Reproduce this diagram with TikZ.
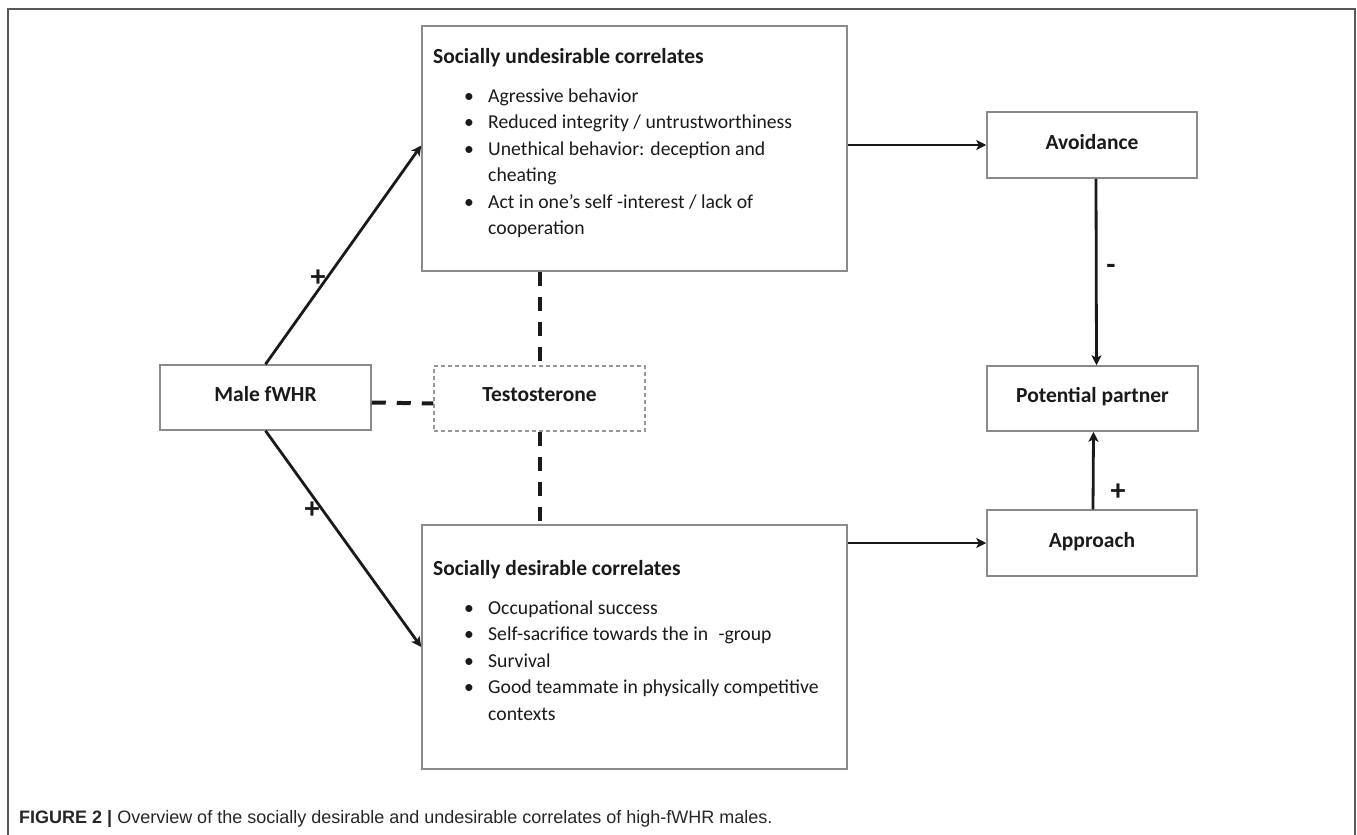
\documentclass[tikz,border=0pt]{standalone}
\usepackage{fontspec}
\setmainfont{Carlito}
\newfontfamily\capfont{Liberation Sans}
\usetikzlibrary{arrows.meta}
\definecolor{boxgray}{HTML}{8A8A8A}
\definecolor{ink}{HTML}{1A1A1A}
\tikzset{
  box/.style={draw=boxgray, line width=1.5pt, fill=white, inner sep=0pt, font=\fontsize{21.5pt}{26pt}\selectfont\bfseries, text=ink},
  dbox/.style={box, draw=boxgray!90, dash pattern=on 4pt off 3pt},
  arr/.style={draw=ink, line width=2.8pt, -{Stealth[length=10pt,width=10pt,inset=2.5pt]}},
  dashline/.style={draw=ink, line width=4pt, dash pattern=on 14pt off 11pt},
  ttl/.style={anchor=base west, inner sep=0pt, font=\fontsize{21.5pt}{26pt}\selectfont\bfseries, text=ink},
  itm/.style={anchor=base west, inner sep=0pt, font=\fontsize{19.7pt}{26pt}\selectfont, text=ink},
  sign/.style={inner sep=0pt, font=\fontsize{30pt}{34pt}\selectfont\bfseries, text=ink},
}
\newcommand{\bul}{\makebox[25pt][l]{\hspace*{1pt}•}}
\begin{document}
\begin{tikzpicture}[x=1pt,y=-1pt]
\useasboundingbox (0,0) rectangle (1357,835);
% frame
\draw[draw=black!65, line width=2pt] (8,835) -- (8,9) -- (1355,9) -- (1355,835);

% boxes
\node[box, minimum width=211pt, minimum height=65pt] (male) at (265.5,397.5) {\raisebox{7pt}{Male fWHR}};
\node[dbox, minimum width=211pt, minimum height=65pt] (testo) at (539.5,398.5) {\raisebox{7pt}{Testosterone}};
\node[box, minimum width=425pt, minimum height=245pt] (undes) at (634.5,148.5) {};
\node[box, minimum width=425pt, minimum height=244pt] (des) at (634.5,647) {};
\node[box, minimum width=210pt, minimum height=66pt] (avoid) at (1092,145) {\raisebox{7pt}{Avoidance}};
\node[box, minimum width=211pt, minimum height=65pt] (partner) at (1092.5,398.5) {\raisebox{7pt}{Potential partner}};
\node[box, minimum width=210pt, minimum height=66pt] (appr) at (1092,543) {\raisebox{7pt}{Approach}};

% undesirable text
\node[ttl] (ut) at (433,63) {Socially undesirable correlates};
\node[itm] (u1) at (463,102) {\bul Agressive behavior};
\node[itm] (u2) at (463,128.5) {\bul Reduced integrity / untrustworthiness};
\node[itm] (u3) at (463,155) {\bul Unethical behavior: deception and};
\node[itm] (u3b) at (488,181.5) {cheating};
\node[itm] (u4) at (463,208) {\bul Act in one’s self -interest / lack of};
\node[itm] (u4b) at (488,234.5) {cooperation};

% desirable text
\node[ttl] (dt) at (433,575) {Socially desirable correlates};
\node[itm] (d1) at (463,614) {\bul Occupational success};
\node[itm] (d2) at (463,640.5) {\bul Self-sacrifice towards the in\hspace{6pt} -group};
\node[itm] (d3) at (463,667) {\bul Survival};
\node[itm] (d4) at (463,693.5) {\bul Good teammate in physically competitive};
\node[itm] (d4b) at (488,720) {contexts};

% connectors
\draw[arr] (male.north) -- ([yshift=3pt]undes.west);
\draw[arr] (male.south) -- (des.west);
\draw[arr] (undes.east |- avoid.west) -- (avoid.west);
\draw[arr] (des.east |- appr.west) -- (appr.west);
\draw[arr] ([xshift=4pt]avoid.south) -- ([xshift=4pt]partner.north);
\draw[arr] ([xshift=1pt]appr.north) -- ([xshift=1pt]partner.south);

\draw[dashline] ([yshift=-5pt]male.east) -- ([yshift=-5pt]testo.west);
\draw[dashline] (testo.north |- undes.south) -- (testo.north);
\draw[dashline] (testo.south) -- (testo.south |- des.north);

% signs
\node[sign] (p1) at (318,278) {+};
\node[sign] (p2) at (312,510) {+};
\node[sign] (m1) at (1111,269) {-};
\node[sign] (p3) at (1118,492) {+};

% caption
\node[anchor=base west, inner sep=0pt, font=\capfont\fontsize{18pt}{20pt}\selectfont, text=black!85] (cap) at (19,823)
  {\textbf{FIGURE 2 |} Overview of the socially desirable and undesirable correlates of high-fWHR males.};
\end{tikzpicture}
\end{document}
